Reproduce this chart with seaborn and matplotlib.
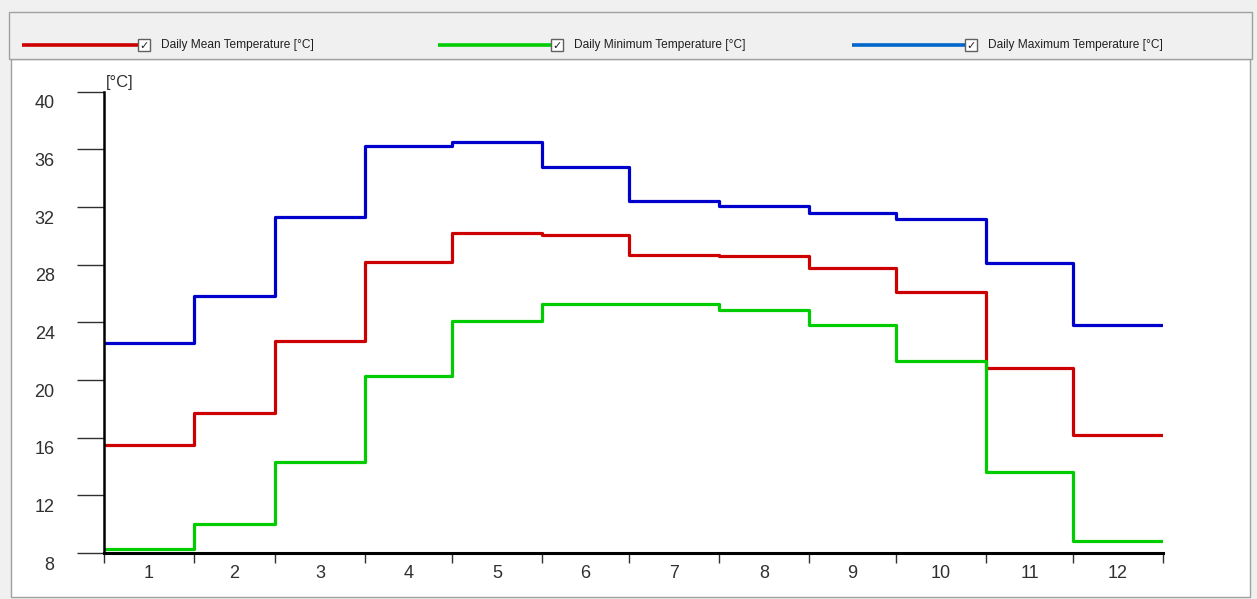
import numpy as np
import pandas as pd
import matplotlib
matplotlib.use("Agg")
import matplotlib.pyplot as plt
import matplotlib.transforms as mtransforms
from matplotlib.patches import Rectangle
from matplotlib.lines import Line2D
import seaborn as sns

# ---- data ----
months = [1, 2, 3, 4, 5, 6, 7, 8, 9, 10, 11, 12]
days_in_month = [31, 28, 31, 30, 31, 30, 31, 31, 30, 31, 30, 31]
mean_temp = [15.5, 17.7, 22.7, 28.2, 30.2, 30.05, 28.7, 28.6, 27.8, 26.1, 20.8, 16.2]
min_temp = [8.25, 10.0, 14.3, 20.3, 24.1, 25.25, 25.25, 24.85, 23.8, 21.3, 13.65, 8.8]
max_temp = [22.6, 25.8, 31.3, 36.2, 36.5, 34.75, 32.45, 32.05, 31.6, 31.15, 28.1, 23.8]
series_names = ["Daily Mean Temperature [°C]",
                "Daily Minimum Temperature [°C]",
                "Daily Maximum Temperature [°C]"]
y_ticks = [8, 12, 16, 20, 24, 28, 32, 36, 40]

line_colors = ["#cc0000", "#00cc00", "#0000cc"]
legend_colors = ["#cc0000", "#00cc00", "#0066cc"]

sns.set_style("white")
plt.rcParams["font.family"] = ["Liberation Sans Narrow", "Liberation Sans", "DejaVu Sans"]

edges = np.concatenate([[0], np.cumsum(days_in_month)])
rows = []
for name, vals in zip(series_names, [mean_temp, min_temp, max_temp]):
    for i, v in enumerate(vals):
        rows.append({"day": edges[i], "temp": v, "series": name})
    rows.append({"day": edges[-1], "temp": vals[-1], "series": name})
df = pd.DataFrame(rows)

W, H, DPI = 1257, 599, 100
fig = plt.figure(figsize=(W / DPI, H / DPI), dpi=DPI)
fig.patch.set_facecolor("#f0f0f0")

def fx(px):
    return px / W

def fy(py):
    return 1 - py / H

# white plot panel
fig.patches.append(Rectangle((fx(11), fy(597)), fx(1250) - fx(11), fy(59) - fy(597),
                             transform=fig.transFigure, facecolor="white",
                             edgecolor="#a0a0a0", linewidth=1, zorder=-2))
# legend panel
fig.patches.append(Rectangle((fx(9), fy(59)), fx(1252) - fx(9), fy(12) - fy(59),
                             transform=fig.transFigure, facecolor="#f0f0f0",
                             edgecolor="#a0a0a0", linewidth=1, zorder=-2))

# legend entries
leg_x = [(22, 138), (438, 551), (852, 965)]
for (x0, x1), col, name in zip(leg_x, legend_colors, series_names):
    fig.add_artist(Line2D([fx(x0), fx(x1)], [fy(45), fy(45)], color=col, lw=2.6,
                          transform=fig.transFigure, solid_capstyle="butt"))
    fig.patches.append(Rectangle((fx(x1), fy(51)), fx(12), fy(39) - fy(51),
                                 transform=fig.transFigure, facecolor="white",
                                 edgecolor="#606060", linewidth=1, zorder=3))
    fig.text(fx(x1 + 6), fy(45.5), "✓", fontsize=8, fontweight="bold",
             ha="center", va="center", family=["DejaVu Sans"], zorder=4)
    fig.text(fx(x1 + 23), fy(45), name, fontsize=8.6, ha="left", va="center",
             color="#202020")

ax = fig.add_axes([fx(104), fy(553), fx(1163) - fx(104), fy(91.7) - fy(553)])
ax.set_facecolor("none")
ax.set_zorder(1)

sns.lineplot(data=df, x="day", y="temp", hue="series", palette=line_colors,
             hue_order=series_names, drawstyle="steps-post", linewidth=2.3,
             estimator=None, legend=False, ax=ax)

ax.set_xlim(edges[0], edges[-1])
ax.set_ylim(y_ticks[0], y_ticks[-1])
ax.set_xlabel("")
ax.set_ylabel("")

for s in ["top", "right"]:
    ax.spines[s].set_visible(False)
ax.spines["left"].set_linewidth(1.8)
ax.spines["bottom"].set_linewidth(2.2)
ax.spines["left"].set_color("black")
ax.spines["bottom"].set_color("black")

ax.set_yticks(y_ticks)
ax.set_yticklabels([str(t) for t in y_ticks])
ax.tick_params(axis="y", left=True, direction="out", length=19.5, width=1.0,
               color="#303030", pad=16, labelsize=13, labelcolor="#303030")
offset = mtransforms.ScaledTranslation(0, -10 / DPI, fig.dpi_scale_trans)
for lab in ax.get_yticklabels():
    lab.set_transform(lab.get_transform() + offset)

centers = (edges[:-1] + edges[1:]) / 2
ax.set_xticks(edges)
ax.set_xticklabels([""] * len(edges))
ax.set_xticks(centers, minor=True)
ax.set_xticklabels([str(m) for m in months], minor=True)
ax.tick_params(axis="x", which="major", bottom=True, direction="out", length=7,
               width=1.0, color="#303030")
ax.tick_params(axis="x", which="minor", bottom=True, length=0, pad=9, labelsize=13,
               labelcolor="#303030")

ax.text(0.002, 1.004, "[°C]", transform=ax.transAxes, ha="left", va="bottom",
        fontsize=12, color="#303030")

fig.savefig("out.png", dpi=DPI, facecolor=fig.get_facecolor())
